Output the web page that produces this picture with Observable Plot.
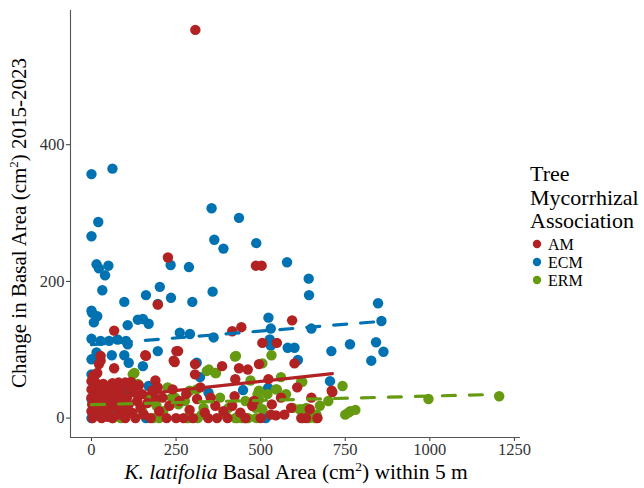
<!DOCTYPE html>
<html><head><meta charset="utf-8">
<script src="https://cdn.jsdelivr.net/npm/d3@7"></script>
<script src="https://cdn.jsdelivr.net/npm/@observablehq/plot@0.6"></script>
<style>body{margin:0;background:#fff}#chart{width:644px;height:488px}
#chart svg text, #chart svg tspan{font-family:"Liberation Serif", serif !important}</style>
</head><body><div id="chart"></div>
<script>
const groups = ["AM", "ECM", "ERM"];
const colors = ["#B22222", "#0072B2", "#669A10"];
const xTicks = [0, 250, 500, 750, 1000, 1250];
const yTicks = [0, 200, 400];

const ecmPoints = [
 [0,357],[62,365],[0,266],[20,287],[355,307],[436,293],[363,261],[390,248],[487,256],[578,228],[642,204],[643,180],
 [15,225],[22,219],[50,223],[40,209],[32,187],[97,170],[161,180],[202,192],[196,167],[235,176],[234,224],[288,221],[298,170],[358,185],
 [0,157],[2,154],[17,149],[7,140],[107,136],[137,144],[152,145],[169,138],
 [0,116],[27,113],[52,113],[77,115],[102,113],[107,108],[261,125],[291,123],[361,118],
 [523,147],[530,131],[650,131],[847,168],[857,142],[527,115],[530,106],[580,103],[600,103],[610,85],[709,98],[764,108],[841,111],[863,97],[827,84],[705,54],[522,44],
 [60,92],[97,92],[110,81],[0,86],[15,96],[152,76],[196,98],[0,64],[321,60],[311,81],[169,47],[346,37],[448,41],
 [0,28],[102,40],[0,0],[161,0],[515,0],[30,10],[60,5]
];
const ermPoints = [
 [1205,32],[996,28],[765,10],[750,5],[759,8],[742,47],
 [532,92],[505,80],[623,53],[575,35],[548,42],[495,40],[520,35],[490,25],[505,13],[675,18],[615,13],[635,15],[665,5],
 [424,90],[368,66],[620,54],[545,42],[455,25],[495,27],[485,15],[395,5],[435,3],[455,0],[595,15],[625,13],
 [127,66],[341,69],[247,30],[257,20],[192,18],[331,15],[282,0],[212,10],[82,3],[32,15],[186,40],[311,42],[427,91],[347,71],[366,66],[122,64],[137,50],[237,30],[276,25],[326,5],[405,15],[27,20],[87,0],[431,0],[491,35],
 [63,0],[182,0],[200,0],[287,0],[314,0],[425,0],[445,0],[463,0],[487,0],[625,0],[643,0],[661,0],[780,12],
 [45,25],[100,20],[150,10],[170,30],[225,45],[290,40],[380,30],[470,55],[560,60],[700,25]
];
const amPoints = [
 [307,568],[226,235],[486,223],[503,223],[196,166],[67,128],[416,127],[443,133],[593,143],[505,110],[548,110],[256,98],[161,91],[246,82],[27,91],[22,79],[306,79],[386,76],[436,73],[462,71],[495,79],[600,80],[712,38],[425,57],[523,57],[710,40],[423,32],[366,18],[416,18],[475,18],[533,20],[530,5],[371,0],[455,0],[545,4],[570,5],[620,0],[645,13],[634,0],[67,73],[27,84],[7,59],[17,66],[62,51],[80,52],[100,52],[117,53],[189,55],[196,45],[306,64],[251,98],[243,84],[159,92],
 [0,54],[0,42],[4,30],[2,20],[0,10],[3,0],[10,47],[12,25],[15,5],[20,36],[24,15],[30,0],[35,50],[40,30],[45,10],[50,40],[55,22],[62,0],[65,35],[70,15],[75,45],[80,5],[85,28],[90,38],[95,12],[100,0],[105,30],[110,20],[120,8],[125,38],[130,0],[135,25],[145,15],[150,35],[155,5],[165,22],[175,0],[180,40],[190,28],[200,10],[210,30],[222,0],[230,18],[240,42],[250,0],[260,25],[272,0],[280,35],[290,12],[300,0],[312,28],[322,45],[335,8],[345,0],[352,30],[390,10],[402,0],[440,8],[480,25],[500,0],[560,30],[590,15],[608,45],[650,30],[668,0],[8,15],[18,50],[28,40],[38,20],[48,2],[58,45],[72,28],[88,18],[115,45],[140,48],[5,62],[0,30]
];
// fitted trend lines: [x, y] at both ends
const amTrend = [[0,27],[712,65]];
const ecmTrend = [[0,107.3],[863,141.8]];
const ermTrend = [[0,19.6],[1205,34.8]];

const toRows = (pts, g) => pts.map(([x, y]) => ({x, y, g}));
const rows = [...toRows(ecmPoints, "ECM"), ...toRows(ermPoints, "ERM"), ...toRows(amPoints, "AM")];

const xDom = [-62, 1268], yDom = [-28.4, 596.4];
const plot = Plot.plot({
  width: 644, height: 488,
  marginLeft: 70, marginRight: 124, marginTop: 10, marginBottom: 51,
  style: {fontFamily: "'Liberation Serif', serif", fontSize: "16.5px", color: "#333", background: "#fff"},
  x: {domain: xDom, ticks: xTicks, tickSize: 4, tickPadding: 2, tickFormat: d => String(d), label: null},
  y: {domain: yDom, ticks: yTicks, tickSize: 4, tickPadding: 2, tickFormat: d => String(d), label: null},
  color: {domain: groups, range: colors},
  marks: [
    Plot.ruleX([xDom[0]], {stroke: "#555", strokeWidth: 1.1}),
    Plot.ruleY([yDom[0]], {stroke: "#555", strokeWidth: 1.1}),
    Plot.dot(rows, {x: "x", y: "y", fill: "g", r: 5.2}),
    Plot.line(amTrend, {x: d => d[0], y: d => d[1], stroke: colors[0], strokeWidth: 3.2}),
    Plot.line(ecmTrend, {x: d => d[0], y: d => d[1], stroke: colors[1], strokeWidth: 3.2, strokeDasharray: "13,14"}),
    Plot.line(ermTrend, {x: d => d[0], y: d => d[1], stroke: colors[2], strokeWidth: 3.2, strokeDasharray: "13,14"})
  ]
});
document.getElementById("chart").appendChild(plot);

const svg = d3.select(plot);
// y title
const yt = svg.append("text").attr("transform", "translate(26,223) rotate(-90)")
  .attr("text-anchor", "middle").attr("font-size", 21).attr("fill", "#000");
yt.append("tspan").text("Change in Basal Area (cm");
yt.append("tspan").attr("dy", -8).attr("font-size", 13).text("2");
yt.append("tspan").attr("dy", 8).text(") 2015-2023");
// x title
const xt = svg.append("text").attr("transform", "translate(296,479)")
  .attr("text-anchor", "middle").attr("font-size", 21.5).attr("fill", "#000");
xt.append("tspan").attr("font-style", "italic").text("K. latifolia");
xt.append("tspan").text(" Basal Area (cm");
xt.append("tspan").attr("dy", -8).attr("font-size", 13.5).text("2");
xt.append("tspan").attr("dy", 8).text(") within 5 m");
// legend
const legTitle = ["Tree", "Mycorrhizal", "Association"];
legTitle.forEach((t, i) => svg.append("text").attr("x", 530).attr("y", 181 + i * 23.5)
  .attr("text-anchor", "start").attr("font-size", 22).attr("fill", "#000").text(t));
groups.forEach((g, i) => {
  const y = 244 + i * 18;
  svg.append("circle").attr("cx", 537).attr("cy", y).attr("r", 4.2).attr("fill", colors[i]);
  svg.append("text").attr("x", 548).attr("y", y + 5.5).attr("text-anchor", "start").attr("font-size", 16)
    .attr("fill", "#000").text(g);
});
</script></body></html>
